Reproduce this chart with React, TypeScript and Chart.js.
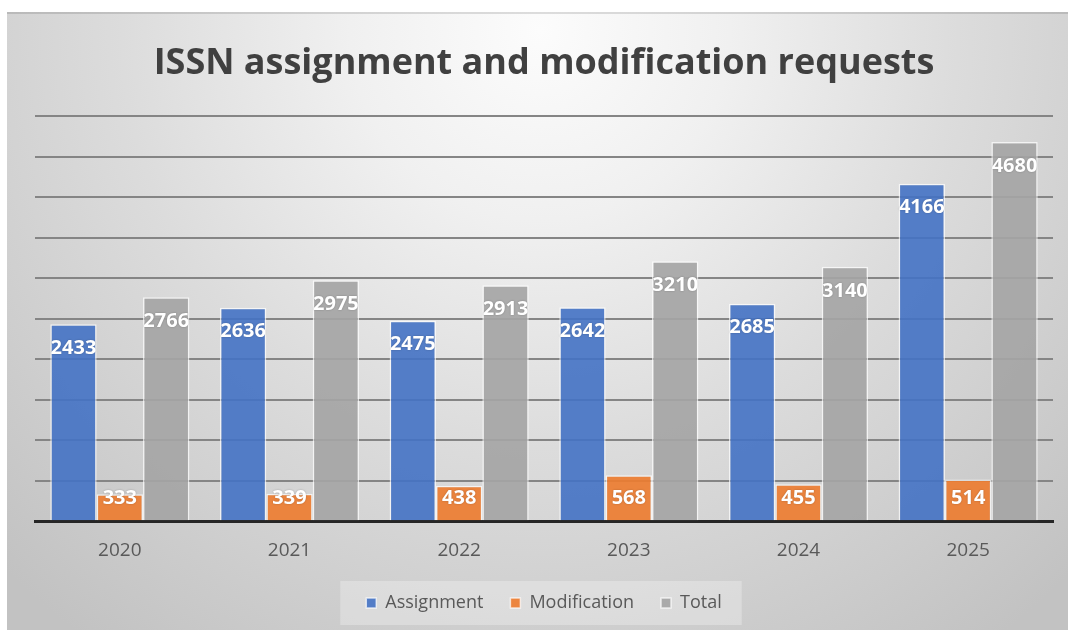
import React, { useEffect, useRef } from "react";
import { Chart, registerables } from "chart.js";

Chart.register(...registerables);

const years = ["2020", "2021", "2022", "2023", "2024", "2025"];
const assignment = [2433, 2636, 2475, 2642, 2685, 4166];
const modification = [333, 339, 438, 568, 455, 514];
const total = [2766, 2975, 2913, 3210, 3140, 4680];
const seriesNames = ["Assignment", "Modification", "Total"];
const titleText = "ISSN assignment and modification requests";
const yMax = 5000;
const yStep = 500;

const FONT = "'Open Sans', 'Noto Sans', sans-serif";

const backgroundPlugin = {
  id: "panelBackground",
  beforeDraw(chart: any) {
    const { ctx, width, height } = chart;
    ctx.save();
    ctx.fillStyle = "#ffffff";
    ctx.fillRect(0, 0, width, height);
    const px = 7, py = 12;
    const g = ctx.createRadialGradient(540, 30, 0, 540, 30, 760);
    g.addColorStop(0, "#fcfcfc");
    g.addColorStop(0.25, "#f0f0f0");
    g.addColorStop(0.55, "#dcdcdc");
    g.addColorStop(1, "#c2c2c2");
    ctx.fillStyle = g;
    ctx.fillRect(px, py, width - px, height - py);
    ctx.fillStyle = "rgba(0,0,0,0.12)";
    ctx.fillRect(px, py, width - px, 2);
    const leg = chart.legend;
    if (leg && leg.legendHitBoxes && leg.legendHitBoxes.length) {
      const hb = leg.legendHitBoxes;
      let l = Infinity, r = -Infinity, t = Infinity, b = -Infinity;
      hb.forEach((h: any) => {
        l = Math.min(l, h.left);
        r = Math.max(r, h.left + h.width);
        t = Math.min(t, h.top);
        b = Math.max(b, h.top + h.height);
      });
      const cy = (t + b) / 2;
      ctx.fillStyle = "rgba(255,255,255,0.28)";
      ctx.fillRect(l - 26, cy - 22, r - l + 46, 44);
    }
    ctx.restore();
  },
};

const labelPlugin = {
  id: "barLabels",
  afterDatasetsDraw(chart: any) {
    const { ctx } = chart;
    ctx.save();
    ctx.font = `bold 20px ${FONT}`;
    ctx.textAlign = "center";
    ctx.textBaseline = "middle";
    ctx.fillStyle = "#ffffff";
    ctx.shadowColor = "rgba(0,0,0,0.25)";
    ctx.shadowBlur = 2;
    chart.data.datasets.forEach((ds: any, i: number) => {
      const meta = chart.getDatasetMeta(i);
      meta.data.forEach((bar: any, j: number) => {
        const y = Math.min(bar.y + 24, bar.base - 22);
        ctx.fillText(String(ds.data[j]), bar.x, y);
      });
    });
    ctx.restore();
  },
};

export default function App() {
  const ref = useRef<HTMLCanvasElement | null>(null);
  useEffect(() => {
    if (!ref.current) return;
    const chart = new Chart(ref.current, {
      type: "bar",
      data: {
        labels: years,
        datasets: [
          {
            label: seriesNames[0],
            data: assignment,
            backgroundColor: "rgba(68,114,196,0.9)",
            borderColor: "rgba(255,255,255,0.7)",
            borderWidth: 1.5,
          },
          {
            label: seriesNames[1],
            data: modification,
            backgroundColor: "rgba(237,125,49,0.92)",
            borderColor: "rgba(255,255,255,0.7)",
            borderWidth: 1.5,
          },
          {
            label: seriesNames[2],
            data: total,
            backgroundColor: "rgba(165,165,165,0.92)",
            borderColor: "rgba(255,255,255,0.7)",
            borderWidth: 1.5,
          },
        ],
      },
      options: {
        responsive: false,
        animation: false,
        layout: { padding: { left: 35, right: 15, top: 0, bottom: 8 } },
        datasets: {
          bar: { categoryPercentage: 0.82, barPercentage: 1.0 },
        },
        scales: {
          y: {
            min: 0,
            max: yMax,
            ticks: { display: false, stepSize: yStep },
            grid: { color: "#858585", lineWidth: 2, drawTicks: false },
            border: { display: false },
          },
          x: {
            grid: { display: false, drawTicks: false },
            border: { color: "#262626", width: 3 },
            ticks: {
              color: "#595959",
              padding: 18,
              font: { family: FONT, size: 19 },
            },
            afterFit: (scale: any) => {
              scale.height = scale.height - 13;
            },
          },
        },
        plugins: {
          title: {
            display: true,
            text: titleText,
            color: "#404040",
            font: { family: FONT, size: 36, weight: "bold" },
            padding: { top: 42, bottom: 31 },
          },
          legend: {
            position: "bottom",
            labels: {
              color: "#595959",
              boxWidth: 10,
              boxHeight: 10,
              padding: 27,
              font: { family: FONT, size: 18 },
            },
          },
          tooltip: { enabled: false },
        },
      },
      plugins: [backgroundPlugin, labelPlugin],
    });
    return () => chart.destroy();
  }, []);
  return (
    <div style={{ position: "fixed", left: 0, top: 0, width: 1068, height: 630 }}>
      <canvas ref={ref} width={1068} height={630} />
    </div>
  );
}
